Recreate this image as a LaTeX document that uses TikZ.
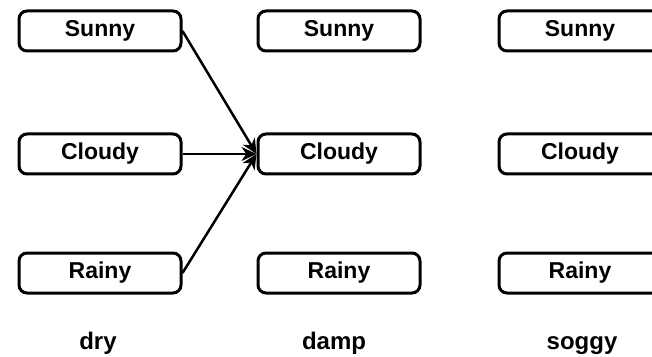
\documentclass[tikz,border=0pt]{standalone}
\usepackage{fontspec}
\setmainfont{Liberation Sans}
\usetikzlibrary{arrows.meta}
\begin{document}
\begin{tikzpicture}[x=1pt,y=1pt,
  state/.style={draw,line width=3pt,rounded corners=8pt,minimum width=162pt,minimum height=40pt,inner sep=0pt,font=\fontsize{23}{23}\selectfont\bfseries},
  lab/.style={anchor=base,font=\fontsize{24}{24}\selectfont\bfseries},
  conn/.style={line width=2.5pt,-{Stealth[length=15pt,width=14pt]}}]
\useasboundingbox (0,0) rectangle (652,356);
\node[state] (s1) at (100,325) {Sunny};
\node[state] (c1) at (100,202) {Cloudy};
\node[state] (r1) at (100,83) {Rainy};
\node[state] (s2) at (339,325) {Sunny};
\node[state] (c2) at (339,202) {Cloudy};
\node[state] (r2) at (339,83) {Rainy};
\node[state] (s3) at (580,325) {Sunny};
\node[state] (c3) at (580,202) {Cloudy};
\node[state] (r3) at (580,83) {Rainy};
\node[lab] (l1) at (98,7) {dry};
\node[lab] (l2) at (334,7) {damp};
\node[lab] (l3) at (582,7) {soggy};
\draw[conn] (s1.east) -- (c2.west);
\draw[conn] (c1.east) -- (c2.west);
\draw[conn] (r1.east) -- (c2.west);
\end{tikzpicture}
\end{document}
